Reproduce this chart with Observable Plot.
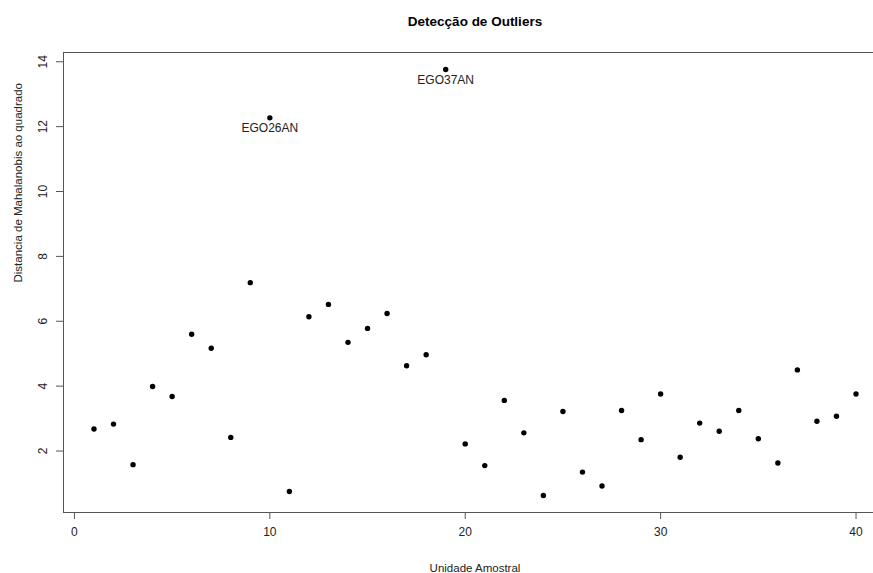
<!DOCTYPE html>
<html>
<head>
<meta charset="utf-8">
<script src="https://cdn.jsdelivr.net/npm/d3@7"></script>
<script src="https://cdn.jsdelivr.net/npm/@observablehq/plot@0.6"></script>
<style>
  html, body { margin: 0; padding: 0; background: #fff; overflow: hidden; width: 873px; height: 573px; }
  #chart { width: 873px; height: 573px; overflow: hidden; }
  #chart svg { max-width: none !important; }
</style>
</head>
<body>
<div id="chart"></div>
<script>
const title = "Detecção de Outliers";
const xLabel = "Unidade Amostral";
const yLabel = "Distancia de Mahalanobis ao quadrado";

const unit = d3.range(1, 41);
const distance = [
  2.68, 2.83, 1.58, 3.99, 3.68, 5.60, 5.17, 2.42, 7.19, 12.27,
  0.75, 6.14, 6.52, 5.35, 5.78, 6.24, 4.63, 4.97, 13.76, 2.22,
  1.55, 3.56, 2.56, 0.63, 3.22, 1.35, 0.92, 3.25, 2.35, 3.76,
  1.81, 2.86, 2.61, 3.25, 2.38, 1.63, 4.50, 2.92, 3.07, 3.76
];
const outlierUnits = [10, 19];
const outlierNames = ["EGO26AN", "EGO37AN"];

const xTicks = [0, 10, 20, 30, 40];
const yTicks = [2, 4, 6, 8, 10, 12, 14];

const data = unit.map((u, i) => ({unit: u, d: distance[i]}));
const outliers = outlierUnits.map((u, i) => ({unit: u, d: distance[u - 1], name: outlierNames[i]}));

// R-style 4% axis expansion
function expand([a, b]) { const p = (b - a) * 0.04; return [a - p, b + p]; }
const xDomain = expand(d3.extent(unit));
const yDomain = expand(d3.extent(distance));

const font = "'Liberation Sans', Arial, sans-serif";
const lineColor = "#555";
const textColor = "#222";

const plot = Plot.plot({
  width: 890,
  height: 573,
  marginLeft: 63,
  marginRight: 4,
  marginTop: 52,
  marginBottom: 61,
  style: {fontFamily: font, fontSize: "12px", color: textColor, background: "#fff", overflow: "visible", maxWidth: "none"},
  x: {domain: xDomain, axis: null},
  y: {domain: yDomain, axis: null},
  marks: [
    Plot.frame({stroke: lineColor, strokeWidth: 1}),
    // x axis
    Plot.axisX({ticks: xTicks, tickSize: 7, tickPadding: 8, label: null, stroke: lineColor, fill: textColor, fontSize: 12, tickFormat: d => String(d)}),
    // y axis ticks
    Plot.axisY({ticks: yTicks, tickSize: 7, tickFormat: () => "", label: null, stroke: lineColor}),
    Plot.text(yTicks, {y: d => d, text: d => String(d), frameAnchor: "left", dx: -20.5, rotate: -90, fill: textColor, fontSize: 12, textAnchor: "middle", lineAnchor: "middle"}),
    // axis titles
    Plot.text([xLabel], {frameAnchor: "bottom", dy: 56, text: d => d, fill: textColor, fontSize: 11.5, lineAnchor: "middle"}),
    Plot.text([yLabel], {frameAnchor: "left", dx: -45, rotate: -90, text: d => d, fill: textColor, fontSize: 11.5, lineAnchor: "middle"}),
    // title
    Plot.text([title], {frameAnchor: "top", dy: -31, text: d => d, fill: "#000", fontSize: 13.5, fontWeight: "bold", lineAnchor: "middle"}),
    // points
    Plot.dot(data, {x: "unit", y: "d", r: 2.7, fill: "#000", stroke: "none"}),
    // outlier labels
    Plot.text(outliers, {x: "unit", y: "d", text: "name", dy: 10.5, fill: textColor, fontSize: 12, lineAnchor: "middle"})
  ]
});
document.getElementById("chart").appendChild(plot);
</script>
</body>
</html>
